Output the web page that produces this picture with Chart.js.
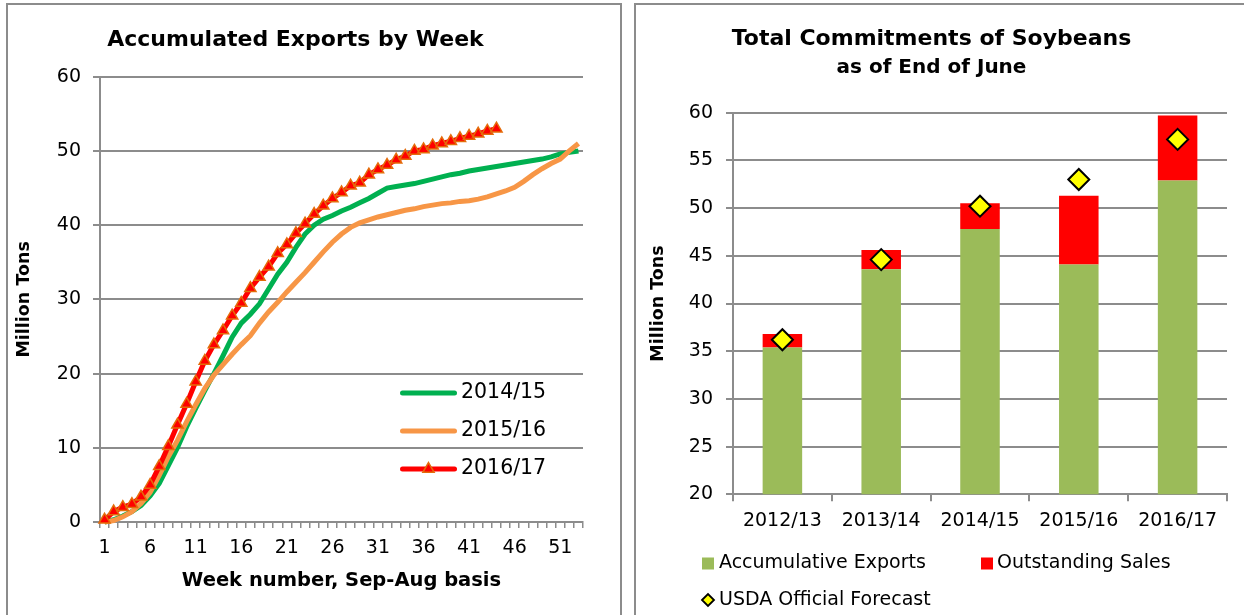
<!DOCTYPE html>
<html>
<head>
<meta charset="utf-8">
<script src="https://cdn.jsdelivr.net/npm/chart.js@4.4.1/dist/chart.umd.min.js"></script>
<style>
  html, body { margin: 0; padding: 0; background: #fff; width: 1244px; height: 615px; overflow: hidden; }
  .box { position: absolute; top: 3px; width: 616px; height: 650px; border: 2px solid #8c8c8c; box-sizing: border-box; background: #fff; }
  #box1 { left: 6px; }
  #box2 { left: 634px; }
  .box canvas { position: absolute; left: 0; top: 0; }
</style>
</head>
<body>
<div class="box" id="box1"><canvas id="c1" width="612" height="610"></canvas></div>
<div class="box" id="box2"><canvas id="c2" width="612" height="610"></canvas></div>
<script>
// ---------- Left chart data ----------
const weeks = [1,2,3,4,5,6,7,8,9,10,11,12,13,14,15,16,17,18,19,20,21,22,23,24,25,26,27,28,29,30,31,32,33,34,35,36,37,38,39,40,41,42,43,44,45,46,47,48,49,50,51,52,53];
const weekTickLabels = [1,6,11,16,21,26,31,36,41,46,51];
const seriesNames = ['2014/15', '2015/16', '2016/17'];
const exports1415 = [0, 0.3, 0.8, 1.4, 2.2, 3.5, 5.2, 7.6, 10.0, 12.8, 15.3, 17.7, 20.0, 22.4, 24.9, 26.8, 28.0, 29.4, 31.4, 33.4, 35.0, 37.0, 38.8, 40.0, 40.8, 41.3, 41.9, 42.4, 43.0, 43.6, 44.3, 45.0, 45.2, 45.4, 45.6, 45.9, 46.2, 46.5, 46.8, 47.0, 47.3, 47.5, 47.7, 47.9, 48.1, 48.3, 48.5, 48.7, 48.9, 49.2, 49.6, 49.8, 50.0];
const exports1516 = [0, 0.2, 0.7, 1.4, 2.5, 4.0, 6.3, 8.8, 11.0, 13.5, 15.8, 18.0, 19.8, 21.2, 22.6, 23.9, 25.1, 26.8, 28.3, 29.6, 31.0, 32.3, 33.6, 35.0, 36.4, 37.7, 38.8, 39.7, 40.3, 40.7, 41.1, 41.4, 41.7, 42.0, 42.2, 42.5, 42.7, 42.9, 43.0, 43.2, 43.3, 43.5, 43.8, 44.2, 44.6, 45.1, 45.9, 46.8, 47.6, 48.3, 48.9, 50.0, 51.0];
const exports1617 = [0.3, 1.4, 2.0, 2.4, 3.4, 5.0, 7.5, 10.2, 13.1, 15.9, 18.9, 21.7, 23.9, 25.8, 27.8, 29.5, 31.5, 33.0, 34.4, 36.2, 37.4, 38.9, 40.2, 41.5, 42.6, 43.6, 44.4, 45.3, 45.7, 46.8, 47.5, 48.1, 48.8, 49.3, 50.0, 50.2, 50.7, 51.0, 51.3, 51.7, 52.0, 52.3, 52.7, 53.0];

// ---------- Right chart data ----------
const seasons = ['2012/13', '2013/14', '2014/15', '2015/16', '2016/17'];
const accumulativeExports = [35.4, 43.6, 47.8, 44.1, 52.9];
const outstandingSales = [1.4, 2.0, 2.7, 7.2, 6.8];
const usdaForecast = [36.2, 44.6, 50.2, 53.0, 57.2];
const barLegendNames = ['USDA Official Forecast', 'Accumulative Exports', 'Outstanding Sales'];

const FONT = '"DejaVu Sans", Verdana, sans-serif';
const GRID = '#8c8c8c';
Chart.defaults.font.family = FONT;
Chart.defaults.color = '#000';

// Legend drawn inside the plot area of the line chart
const lineLegend = {
  id: 'lineLegend',
  afterDraw(chart, args, o) {
    const ctx = chart.ctx;
    ctx.save();
    chart.data.datasets.forEach((ds, i) => {
      const y = o.rows[i];
      ctx.beginPath();
      ctx.lineCap = 'round';
      ctx.lineWidth = ds.borderWidth;
      ctx.strokeStyle = ds.borderColor;
      ctx.moveTo(o.x0, y);
      ctx.lineTo(o.x1, y);
      ctx.stroke();
      if (ds.pointRadius > 0) {
        const r = o.markerRadius, cx = (o.x0 + o.x1) / 2;
        ctx.beginPath();
        ctx.moveTo(cx, y - r);
        ctx.lineTo(cx + r * Math.sin(2 * Math.PI / 3), y - r * Math.cos(2 * Math.PI / 3));
        ctx.lineTo(cx + r * Math.sin(4 * Math.PI / 3), y - r * Math.cos(4 * Math.PI / 3));
        ctx.closePath();
        ctx.fillStyle = ds.pointBackgroundColor;
        ctx.fill();
        ctx.lineWidth = ds.pointBorderWidth;
        ctx.strokeStyle = ds.pointBorderColor;
        ctx.stroke();
      }
      ctx.fillStyle = '#000';
      ctx.font = o.font;
      ctx.textBaseline = 'middle';
      ctx.textAlign = 'left';
      ctx.fillText(ds.label, o.textX, y);
    });
    ctx.restore();
  }
};

// Legend under the bar chart
const barLegend = {
  id: 'barLegend',
  afterDraw(chart, args, o) {
    const ctx = chart.ctx;
    ctx.save();
    o.items.forEach(it => {
      const ds = chart.data.datasets[it.index];
      if (ds.type === 'line') {
        const r = o.diamond, cx = it.x + o.square / 2, cy = it.y;
        ctx.beginPath();
        ctx.moveTo(cx - r, cy); ctx.lineTo(cx, cy - r); ctx.lineTo(cx + r, cy); ctx.lineTo(cx, cy + r);
        ctx.closePath();
        ctx.fillStyle = ds.pointBackgroundColor; ctx.fill();
        ctx.lineWidth = 1.8; ctx.strokeStyle = ds.pointBorderColor; ctx.stroke();
      } else {
        ctx.fillStyle = ds.backgroundColor;
        ctx.fillRect(it.x, it.y - o.square / 2, o.square, o.square);
      }
      ctx.fillStyle = '#000';
      ctx.font = o.font;
      ctx.textBaseline = 'middle';
      ctx.textAlign = 'left';
      ctx.fillText(ds.label, it.textX, it.y);
    });
    ctx.restore();
  }
};

new Chart(document.getElementById('c1'), {
  type: 'line',
  data: {
    labels: weeks,
    datasets: [
      { label: seriesNames[0], data: exports1415, borderColor: '#00B050', backgroundColor: '#00B050', borderWidth: 5, pointRadius: 0, tension: 0, order: 2, clip: false },
      { label: seriesNames[1], data: exports1516, borderColor: '#F79646', backgroundColor: '#F79646', borderWidth: 5, pointRadius: 0, tension: 0, order: 1, clip: false },
      { label: seriesNames[2], data: exports1617, borderColor: '#FF0000', backgroundColor: '#FF0000', borderWidth: 5, tension: 0, order: 0, clip: false,
        pointStyle: 'triangle', pointRadius: 6.5, pointBackgroundColor: '#FF0000', pointBorderColor: '#E46C0A', pointBorderWidth: 1.5 }
    ]
  },
  options: {
    responsive: false, animation: false, devicePixelRatio: 1,
    layout: { padding: { top: 0, right: 37, bottom: 0, left: 0 } },
    plugins: {
      legend: { display: false },
      tooltip: { enabled: false },
      title: { display: true, text: 'Accumulated Exports by Week', color: '#000',
               font: { size: 22, weight: 'bold' }, padding: { top: 21.8, bottom: 23.5 } },
      lineLegend: { x0: 394.5, x1: 446.5, textX: 453, rows: [388, 426, 464], markerRadius: 6.5, font: '20.5px ' + FONT }
    },
    scales: {
      x: {
        offset: true,
        grid: { display: true, drawOnChartArea: false, drawTicks: true, tickLength: 6, offset: true, color: GRID, lineWidth: 1.5 },
        border: { display: true, color: GRID, width: 2 },
        ticks: { autoSkip: false, maxRotation: 0, minRotation: 0, padding: 9, font: { size: 19 }, color: '#000',
                 callback(v, i) { return weekTickLabels.includes(weeks[i]) ? String(weeks[i]) : ''; } },
        title: { display: true, text: 'Week number, Sep-Aug basis', color: '#000', font: { size: 19.5, weight: 'bold' }, padding: { top: 0, bottom: 22.3 } },
        afterFit(s) { s.height = 93; }
      },
      y: {
        min: 0, max: 60,
        ticks: { stepSize: 10, padding: 12, font: { size: 19 }, color: '#000' },
        grid: { color: GRID, lineWidth: 2, tickLength: 7 },
        border: { display: true, color: GRID, width: 2 },
        title: { display: true, text: 'Million Tons', color: '#000', font: { size: 17.5, weight: 'bold' }, padding: { top: 6, bottom: 0 } },
        afterFit(s) { s.width = 92; }
      }
    }
  },
  plugins: [lineLegend]
});

new Chart(document.getElementById('c2'), {
  type: 'bar',
  data: {
    labels: seasons,
    datasets: [
      { type: 'line', label: barLegendNames[0], data: usdaForecast, showLine: false, stack: 'forecast', order: 0,
        pointStyle: 'rectRot', pointRadius: 10.5, pointBackgroundColor: '#FFFF00', pointBorderColor: '#000', pointBorderWidth: 2 },
      { label: barLegendNames[1], data: accumulativeExports, backgroundColor: '#9BBB59', stack: 'commit', order: 1, barPercentage: 0.4, categoryPercentage: 1.0 },
      { label: barLegendNames[2], data: outstandingSales, backgroundColor: '#FF0000', stack: 'commit', order: 1, barPercentage: 0.4, categoryPercentage: 1.0 }
    ]
  },
  options: {
    responsive: false, animation: false, devicePixelRatio: 1,
    layout: { padding: { top: 0, right: 21, bottom: 0, left: 0 } },
    plugins: {
      legend: { display: false },
      tooltip: { enabled: false },
      title: { display: true, text: 'Total Commitments of Soybeans', color: '#000',
               font: { size: 22, weight: 'bold' }, padding: { top: 20.9, bottom: 0 } },
      subtitle: { display: true, text: 'as of End of June', color: '#000',
               font: { size: 20, weight: 'bold' }, padding: { top: 3.2, bottom: 33.2 } },
      barLegend: { square: 12, diamond: 6, font: '19px ' + FONT,
        items: [
          { index: 1, x: 66, y: 558.5, textX: 83 },
          { index: 2, x: 345, y: 558.5, textX: 361 },
          { index: 0, x: 66, y: 595, textX: 83 }
        ] }
    },
    scales: {
      x: {
        stacked: true,
        grid: { display: true, drawOnChartArea: false, drawTicks: true, tickLength: 7, offset: true, color: GRID, lineWidth: 2 },
        border: { display: true, color: GRID, width: 2 },
        ticks: { maxRotation: 0, padding: 8.3, font: { size: 19 }, color: '#000' },
        afterFit(s) { s.height = 120.7; }
      },
      y: {
        stacked: true, min: 20, max: 60,
        ticks: { stepSize: 5, padding: 13, font: { size: 19 }, color: '#000' },
        grid: { color: GRID, lineWidth: 2, tickLength: 7 },
        border: { display: true, color: GRID, width: 2 },
        title: { display: true, text: 'Million Tons', color: '#000', font: { size: 17.5, weight: 'bold' }, padding: { top: 12, bottom: 0 } },
        afterFit(s) { s.width = 97; }
      }
    }
  },
  plugins: [barLegend]
});
</script>
</body>
</html>
